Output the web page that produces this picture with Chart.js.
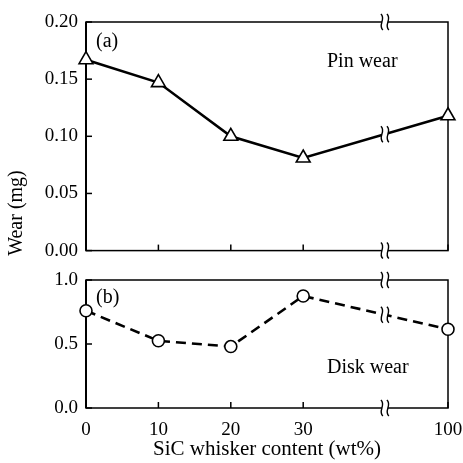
<!DOCTYPE html>
<html><head><meta charset="utf-8">
<script src="https://cdn.jsdelivr.net/npm/chart.js@4"></script>
<style>
html,body{margin:0;padding:0;background:#fff;}
#wrap{position:relative;width:463px;height:463px;background:#fff;}
canvas{position:absolute;left:0;}
#c1{top:0;} #c2{top:260px;}
</style></head><body>
<div id="wrap"><canvas id="c1" width="463" height="270"></canvas><canvas id="c2" width="463" height="203"></canvas></div>
<script>
// ---- data ----
const whiskerContent = [0, 10, 20, 30, 100];          // wt%
const pinWear  = [0.167, 0.147, 0.100, 0.081, 0.118];  // mg
const diskWear = [0.76, 0.525, 0.48, 0.875, 0.615];    // mg
const xTickValues = [0, 10, 20, 30, 100];
const pinTicks  = [0, 0.05, 0.10, 0.15, 0.20];
const diskTicks = [0, 0.5, 1.0];
const xTitle = 'SiC whisker content (wt%)';
const yTitle = 'Wear (mg)';

// broken axis: 30..100 compressed
const BREAK_FROM = 30, BREAK_SCALE = 2 / 7, BREAK_AT = 69.5;
function axisPos(v) { return v <= BREAK_FROM ? v : BREAK_FROM + (v - BREAK_FROM) * BREAK_SCALE; }
const X_MAX = axisPos(100);

const FONT = 'Liberation Serif';
Chart.defaults.font.family = FONT;
Chart.defaults.color = '#000';

function drawBreak(ctx, x, y, clearH) {
  ctx.save();
  ctx.fillStyle = '#fff';
  ctx.fillRect(x - 3, y - clearH, 6, clearH * 2);
  ctx.strokeStyle = '#000';
  ctx.lineWidth = 1.4;
  [-3, 3].forEach(dx => {
    ctx.beginPath();
    ctx.moveTo(x + dx - 1, y - 8);
    ctx.bezierCurveTo(x + dx + 4.5, y - 3, x + dx - 4.5, y + 3, x + dx + 1, y + 8);
    ctx.stroke();
  });
  ctx.restore();
}

const framePlugin = {
  id: 'frame',
  beforeDatasetsDraw(chart) {
    const {ctx, chartArea: a, scales} = chart;
    ctx.save();
    ctx.strokeStyle = '#000';
    ctx.lineWidth = 1.5;
    ctx.strokeRect(a.left, a.top, a.right - a.left, a.bottom - a.top);
    ctx.beginPath();
    ctx.lineWidth = 2;
    ctx.moveTo(a.left, a.top); ctx.lineTo(a.left, a.bottom);
    ctx.stroke();
    ctx.lineWidth = 1.5;
    // inward ticks
    const yt = chart.options.plugins.frame.yTicks;
    yt.forEach(v => {
      const p = scales.y.getPixelForValue(v);
      ctx.beginPath(); ctx.moveTo(a.left, p); ctx.lineTo(a.left + 6, p); ctx.stroke();
    });
    xTickValues.forEach(v => {
      const p = scales.x.getPixelForValue(axisPos(v));
      ctx.beginPath(); ctx.moveTo(p, a.bottom); ctx.lineTo(p, a.bottom - 6); ctx.stroke();
    });
    ctx.restore();
    const bx = scales.x.getPixelForValue(axisPos(BREAK_AT));
    drawBreak(ctx, bx, a.top, 2);
    drawBreak(ctx, bx, a.bottom, 2);
  },
  afterDatasetsDraw(chart) {
    const {ctx, scales} = chart;
    const o = chart.options.plugins.frame;
    const data = chart.data.datasets[0].data;
    const p1 = data[3], p2 = data[4];
    const x1 = scales.x.getPixelForValue(p1.x), y1 = scales.y.getPixelForValue(p1.y);
    const x2 = scales.x.getPixelForValue(p2.x), y2 = scales.y.getPixelForValue(p2.y);
    const bx = scales.x.getPixelForValue(axisPos(BREAK_AT));
    const by = y1 + (y2 - y1) * (bx - x1) / (x2 - x1);
    drawBreak(ctx, bx, by, 3);
    // texts
    ctx.save();
    ctx.fillStyle = '#000';
    ctx.textBaseline = 'middle';
    ctx.textAlign = 'left';
    ctx.font = '20px "' + FONT + '"';
    o.texts.forEach(t => ctx.fillText(t.text, t.x, t.y));
    if (o.yTitle) {
      ctx.translate(17, 213);
      ctx.rotate(-Math.PI / 2);
      ctx.textAlign = 'center';
      ctx.font = '20px "' + FONT + '"';
      ctx.fillText(yTitle, 0, 0);
    }
    ctx.restore();
  }
};

function pts(vals) { return whiskerContent.map((x, i) => ({x: axisPos(x), y: vals[i]})); }

new Chart(document.getElementById('c1'), {
  type: 'scatter',
  data: { datasets: [{
    data: pts(pinWear), showLine: true, borderColor: '#000', borderWidth: 2.6,
    pointStyle: 'triangle', pointRadius: 8, pointBackgroundColor: '#fff',
    pointBorderColor: '#000', pointBorderWidth: 1.6, clip: false
  }]},
  options: {
    responsive: false, animation: false,
    layout: { padding: { top: 22, right: 15, left: 0, bottom: 11 } },
    plugins: { legend: { display: false }, tooltip: { enabled: false },
      frame: { yTicks: pinTicks, yTitle: true,
        texts: [{text: '(a)', x: 96, y: 42}, {text: 'Pin wear', x: 327, y: 62}] } },
    scales: {
      x: { type: 'linear', display: false, min: 0, max: X_MAX },
      y: { min: 0, max: 0.2,
        afterBuildTicks: s => { s.ticks = pinTicks.map(v => ({value: v})); },
        afterFit: s => { s.width = 86; },
        grid: { display: false, drawTicks: false }, border: { display: false },
        ticks: { padding: 8, font: { size: 19 }, color: '#000', callback: v => Number(v).toFixed(2) } }
    }
  },
  plugins: [framePlugin]
});

new Chart(document.getElementById('c2'), {
  type: 'scatter',
  data: { datasets: [{
    data: pts(diskWear), showLine: true, borderColor: '#000', borderWidth: 2.6, borderDash: [10, 6],
    pointStyle: 'circle', pointRadius: 6, pointBackgroundColor: '#fff',
    pointBorderColor: '#000', pointBorderWidth: 1.6, clip: false
  }]},
  options: {
    responsive: false, animation: false,
    layout: { padding: { top: 20, right: 15, left: 0, bottom: 0 } },
    plugins: { legend: { display: false }, tooltip: { enabled: false },
      frame: { yTicks: diskTicks, yTitle: false,
        texts: [{text: '(b)', x: 96, y: 38}, {text: 'Disk wear', x: 327, y: 108}] } },
    scales: {
      x: { type: 'linear', min: 0, max: X_MAX,
        afterBuildTicks: s => { s.ticks = xTickValues.map(v => ({value: axisPos(v)})); },
        afterFit: s => { s.height = 55; s.paddingLeft = 0; s.paddingRight = 0; },
        grid: { display: false, drawTicks: false }, border: { display: false },
        ticks: { padding: 11, maxRotation: 0, autoSkip: false, font: { size: 19 }, color: '#000',
          callback: (v, i) => String(xTickValues[i]) },
        title: { display: true, text: xTitle, font: { size: 21 }, color: '#000', padding: { top: 0, bottom: 1 } } },
      y: { min: 0, max: 1.0,
        afterBuildTicks: s => { s.ticks = diskTicks.map(v => ({value: v})); },
        afterFit: s => { s.width = 86; },
        grid: { display: false, drawTicks: false }, border: { display: false },
        ticks: { padding: 8, font: { size: 19 }, color: '#000', callback: v => Number(v).toFixed(1) } }
    }
  },
  plugins: [framePlugin]
});
</script>
</body></html>
